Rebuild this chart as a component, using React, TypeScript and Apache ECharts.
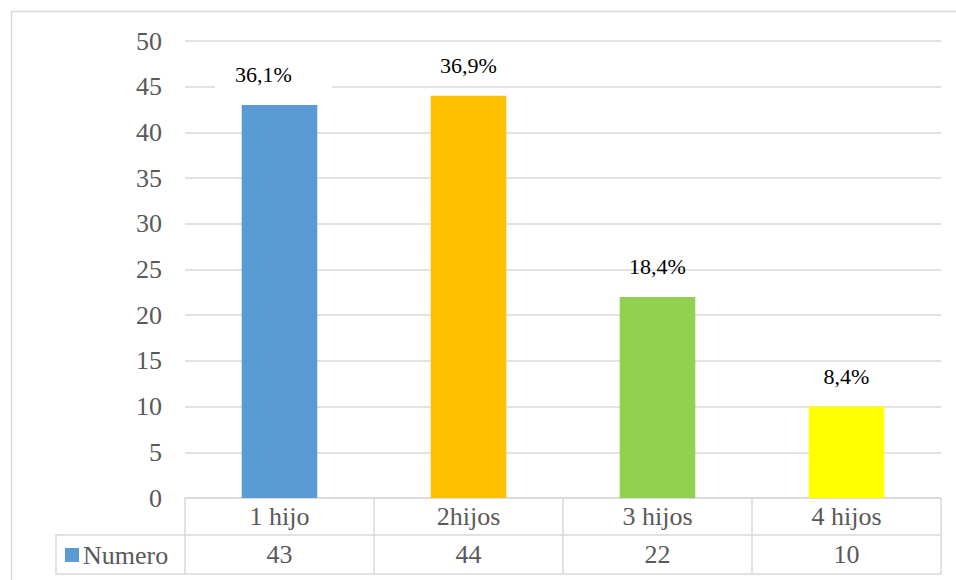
import React, { useEffect, useRef } from "react";
import * as echarts from "echarts";

// Number of families by number of children
const categories = ["1 hijo", "2hijos", "3 hijos", "4 hijos"];
const values = [43, 44, 22, 10];
const percentLabels = ["36,1%", "36,9%", "18,4%", "8,4%"];
const barColors = ["#5B9BD5", "#FFC000", "#92D050", "#FFFF00"];
const seriesName = "Numero";
const yTicks = { min: 0, max: 50, interval: 5 };

const FONT = "'Liberation Serif', serif";
const LINE = "#d9d9d9";
const TEXT = "#595959";

export default function App() {
  const ref = useRef<HTMLDivElement>(null);

  useEffect(() => {
    if (!ref.current) return;
    const chart = echarts.init(ref.current, null, { renderer: "svg" });

    const gridLeft = 185;
    const gridRight = 15;
    const gridTop = 41;
    const gridBottom = 82;
    const axisY = 580 - gridBottom;
    const rowH = 37;
    const tableBottom = axisY + rowH * 2 + 2;
    const legendCellLeft = 56;

    // the first label sits in a white box, nudged to the left
    const firstLabel = {
      offset: [-6, 0],
      distance: 15,
      backgroundColor: "#ffffff",
      padding: [4, 40, 4, 20],
    };

    chart.setOption({
      animation: false,
      backgroundColor: "#ffffff",
      textStyle: { fontFamily: FONT },
      grid: { left: gridLeft, right: gridRight, top: gridTop, bottom: gridBottom, containLabel: false },
      legend: {
        left: 65,
        top: axisY + rowH + 7,
        padding: 0,
        itemWidth: 14,
        itemHeight: 14,
        icon: "rect",
        itemGap: 5,
        textStyle: { color: TEXT, fontSize: 26, fontFamily: FONT, lineHeight: 26, padding: [0, 0, 0, -1] },
        data: [seriesName],
      },
      xAxis: [
        {
          type: "category",
          data: categories,
          position: "bottom",
          axisLine: { show: true, lineStyle: { color: LINE, width: 1.5 } },
          axisTick: { show: true, length: tableBottom - axisY, lineStyle: { color: LINE, width: 1.5 } },
          axisLabel: { color: TEXT, fontSize: 26, fontFamily: FONT, lineHeight: 26, margin: 5 },
          splitLine: { show: false },
        },
        {
          type: "category",
          data: values.map(String),
          position: "bottom",
          offset: rowH,
          axisLine: { show: true, lineStyle: { color: LINE, width: 1.5 } },
          axisTick: { show: false },
          axisLabel: { color: TEXT, fontSize: 26, fontFamily: FONT, lineHeight: 26, margin: 6 },
        },
        {
          type: "category",
          data: categories,
          position: "bottom",
          offset: tableBottom - axisY,
          axisLine: { show: true, lineStyle: { color: LINE, width: 1.5 } },
          axisTick: { show: false },
          axisLabel: { show: false },
        },
      ],
      yAxis: {
        type: "value",
        min: yTicks.min,
        max: yTicks.max,
        interval: yTicks.interval,
        axisLine: { show: false },
        axisTick: { show: false },
        axisLabel: { color: TEXT, fontSize: 26, fontFamily: FONT, lineHeight: 26, margin: 23 },
        splitLine: { lineStyle: { color: LINE, width: 1.5 } },
      },
      series: [
        {
          name: seriesName,
          type: "bar",
          xAxisIndex: 0,
          barWidth: "40%",
          itemStyle: { color: barColors[0] },
          data: values.map((v, i) => ({
            value: v,
            itemStyle: { color: barColors[i] },
            ...(i === 0 ? { label: firstLabel } : {}),
          })),
          label: {
            show: true,
            position: "top",
            distance: 19,
            formatter: (p: any) => percentLabels[p.dataIndex],
            color: "#000000",
            fontSize: 22,
            lineHeight: 22,
            fontWeight: "normal",
            fontFamily: FONT,
          },
        },
      ],
      graphic: [
        // outer chart frame
        {
          type: "rect",
          shape: { x: 11.5, y: 11.5, width: 1200, height: 1200 },
          style: { fill: "none", stroke: LINE, lineWidth: 1.5 },
          silent: true,
        },
        // legend-key cell of the data table
        {
          type: "polyline",
          shape: {
            points: [
              [gridLeft, axisY + rowH],
              [legendCellLeft, axisY + rowH],
              [legendCellLeft, tableBottom],
              [gridLeft, tableBottom],
            ],
          },
          style: { fill: "none", stroke: LINE, lineWidth: 1.5 },
          silent: true,
        },
      ],
    });

    return () => chart.dispose();
  }, []);

  return (
    <div
      ref={ref}
      style={{ position: "absolute", left: 0, top: 0, width: 956, height: 580 }}
    />
  );
}
